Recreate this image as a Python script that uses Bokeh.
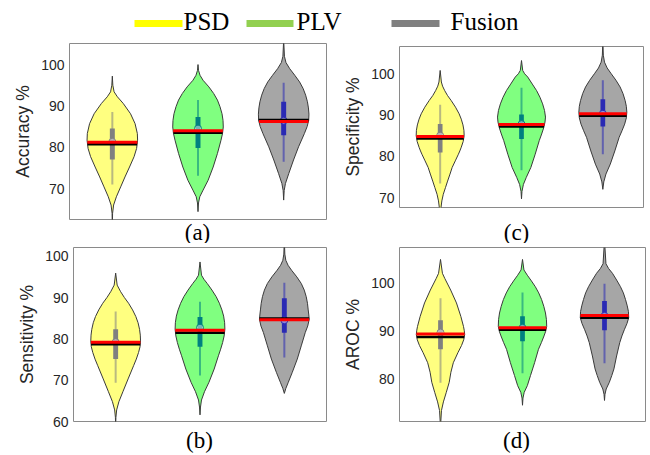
import numpy as np
from bokeh.plotting import figure
from bokeh.layouts import column, row
from bokeh.models import Range1d, FixedTicker
from bokeh.core.properties import value
from bokeh.embed import file_html
from bokeh.resources import INLINE

groups = ["PSD", "PLV", "Fusion"]
tags_top = ["(a)", "(c)"]
tags_bottom = ["(b)", "(d)"]
fill_colors = ["#FFFF80", "#80FF80", "#A6A6A6"]
box_colors = ["#808080", "#008080", "#2A2AB4"]
legend_colors = ["#FFFF00", "#92D050", "#808080"]

# ---- (a) Accuracy ----
acc_psd_y = [61.0, 64.0, 66.0, 68.0, 70.4, 72.8, 75.2, 77.7, 79.7, 81.7, 83.3, 85.7, 88.1, 90.6, 92.2, 93.4, 95.0, 97.2]
acc_psd_w = [0, .01, .05, .16, .33, .5, .68, .86, .96, 1.0, .99, .9, .72, .43, .2, .07, .02, 0]
acc_plv_y = [64.4, 66.5, 68.0, 69.6, 72.0, 75.2, 78.5, 81.7, 83.3, 84.9, 86.5, 88.1, 89.8, 91.4, 93.0, 94.6, 96.2, 97.4, 98.6, 100.0]
acc_plv_w = [0, .02, .07, .2, .4, .6, .77, .91, .97, 1.0, .99, .95, .87, .77, .62, .43, .2, .08, .02, 0]
acc_fus_y = [67.2, 69.5, 71.2, 73.6, 76.9, 80.1, 83.3, 85.0, 86.5, 88.0, 89.5, 91.0, 92.6, 94.2, 95.8, 97.4, 99.0, 100.5, 102.0, 106.0]
acc_fus_w = [0, .02, .07, .2, .39, .59, .82, .93, .99, 1.0, .98, .94, .87, .77, .63, .44, .24, .09, .03, 0]
acc_q1 = [77.0, 79.8, 82.9]
acc_q3 = [84.5, 87.3, 91.0]
acc_wlo = [71.0, 73.1, 76.5]
acc_whi = [88.5, 91.4, 95.6]
acc_dot = [81.3, 84.5, 86.4]
acc_mean = [81.2, 84.0, 86.2]
acc_median = [80.7, 83.5, 86.6]

# ---- (c) Specificity ----
spe_psd_y = [66.0, 69.2, 70.8, 72.4, 74.0, 75.7, 77.3, 78.9, 80.5, 81.3, 82.2, 83.6, 85.0, 86.3, 87.6, 89.0, 90.3, 91.9, 93.5, 94.7, 95.9, 97.0, 98.0, 100.8]
spe_psd_w = [0, .07, .13, .22, .31, .41, .5, .63, .76, .82, .88, .96, 1.0, .99, .95, .88, .79, .64, .46, .31, .19, .1, .05, 0]
spe_plv_y = [69.7, 71.5, 73.2, 74.9, 77.3, 80.5, 83.8, 85.4, 87.0, 88.3, 89.5, 91.1, 92.7, 94.3, 95.9, 97.5, 99.2, 100.0, 100.8, 103.2]
spe_plv_w = [0, .02, .08, .2, .39, .57, .74, .84, .93, .98, 1.0, .96, .88, .77, .63, .45, .26, .13, .05, 0]
spe_fus_y = [72.0, 73.8, 75.7, 78.1, 81.3, 84.6, 86.2, 87.8, 89.3, 90.7, 92.1, 93.5, 95.2, 96.8, 98.4, 100.0, 101.4, 102.8, 104.5, 108.0]
spe_fus_w = [0, .04, .13, .31, .5, .68, .8, .91, .98, 1.0, .98, .93, .84, .72, .55, .35, .18, .07, .02, 0]
spe_q1 = [80.9, 84.2, 87.2]
spe_q3 = [87.8, 90.1, 93.8]
spe_wlo = [73.4, 76.6, 80.5]
spe_whi = [92.5, 96.6, 98.4]
spe_dot = [85.0, 87.8, 90.3]
spe_mean = [84.8, 87.7, 90.3]
spe_median = [84.3, 87.2, 89.8]

# ---- (b) Sensitivity ----
sen_psd_y = [59.0, 61.0, 62.8, 64.8, 67.2, 70.3, 73.5, 75.1, 76.7, 78.1, 79.5, 80.9, 82.3, 83.9, 85.4, 87.0, 88.6, 90.0, 91.4, 93.0, 95.9]
sen_psd_w = [0, .01, .04, .13, .29, .5, .72, .83, .92, .98, 1.0, .99, .96, .9, .81, .68, .52, .35, .2, .06, 0]
sen_plv_y = [61.6, 63.5, 65.2, 67.2, 69.5, 72.7, 75.9, 77.5, 79.1, 80.7, 82.3, 83.9, 85.5, 87.0, 88.6, 90.2, 91.8, 93.4, 94.4, 95.4, 98.6]
sen_plv_w = [0, .02, .06, .18, .36, .57, .74, .83, .91, .97, 1.0, .99, .95, .88, .78, .65, .48, .29, .16, .06, 0]
sen_fus_y = [66.8, 68.0, 69.5, 71.9, 75.1, 78.3, 81.5, 83.1, 84.7, 86.0, 87.0, 88.6, 90.2, 91.8, 93.4, 95.0, 96.6, 97.8, 99.0, 100.5, 104.0]
sen_fus_w = [0, .06, .16, .32, .52, .68, .84, .94, 1.0, .98, .96, .93, .88, .8, .68, .5, .29, .15, .06, .02, 0]
sen_q1 = [75.1, 78.1, 81.5]
sen_q3 = [82.3, 85.3, 89.8]
sen_wlo = [69.4, 71.1, 75.5]
sen_whi = [86.6, 89.0, 93.6]
sen_dot = [79.2, 82.7, 84.5]
sen_mean = [79.2, 82.1, 84.6]
sen_median = [78.7, 81.5, 84.9]

# ---- (d) AROC ----
aroc_psd_y = [70.0, 73.4, 75.2, 77.2, 79.3, 81.4, 83.4, 85.5, 87.0, 88.2, 89.3, 90.2, 91.0, 93.1, 95.9, 98.6, 101.0, 102.1, 105.0]
aroc_psd_w = [0, .04, .12, .24, .36, .43, .53, .72, .87, .96, 1.0, .98, .95, .84, .66, .42, .18, .08, 0]
aroc_plv_y = [74.5, 76.0, 77.2, 78.6, 80.7, 83.4, 86.2, 87.6, 89.0, 90.0, 91.0, 92.4, 93.8, 95.2, 96.6, 98.0, 99.3, 100.5, 101.7, 102.8, 105.0]
aroc_plv_w = [0, .02, .07, .2, .33, .5, .66, .78, .89, .96, 1.0, .99, .95, .88, .79, .67, .53, .37, .2, .06, 0]
aroc_fus_y = [75.5, 76.8, 77.9, 79.3, 80.7, 82.1, 84.8, 87.6, 89.0, 90.3, 91.6, 92.8, 94.1, 95.3, 96.6, 98.0, 99.3, 100.7, 102.1, 103.1, 104.1, 109.0]
aroc_fus_w = [0, .02, .07, .2, .3, .39, .5, .63, .72, .82, .93, 1.0, .99, .94, .87, .78, .66, .5, .33, .17, .06, 0]
aroc_q1 = [86.2, 87.9, 90.2]
aroc_q3 = [92.3, 93.1, 96.3]
aroc_wlo = [79.2, 81.2, 83.3]
aroc_whi = [96.9, 98.1, 99.9]
aroc_dot = [89.7, 90.7, 93.2]
aroc_mean = [89.4, 90.7, 93.3]
aroc_median = [88.8, 90.3, 92.8]

MAXW = 0.295
TXT = "#262626"


def make_panel(width, height, borders, yr, ticks, ylabel,
               profiles, q1, q3, wlo, whi, dot, mean, median):
    l, r, t, b = borders
    p = figure(width=width, height=height, x_range=Range1d(0.5, 3.5),
               y_range=Range1d(*yr), output_backend="svg", toolbar_location=None,
               min_border_left=l, min_border_right=r, min_border_top=t,
               min_border_bottom=b)
    p.grid.visible = False
    p.outline_line_color = "#8a8a8a"
    p.outline_line_width = 1
    p.xaxis.visible = False

    ya = p.yaxis[0]
    ya.ticker = FixedTicker(ticks=ticks)
    ya.major_tick_line_color = None
    ya.minor_tick_line_color = None
    ya.axis_line_color = None
    ya.major_tick_out = 0
    ya.major_tick_in = 0
    ya.major_label_standoff = 5
    ya.major_label_text_font = "Liberation Sans"
    ya.major_label_text_font_size = "14px"
    ya.major_label_text_color = TXT
    ya.axis_label = ylabel
    ya.axis_label_text_font = "Liberation Sans"
    ya.axis_label_text_font_size = "17.5px"
    ya.axis_label_text_font_style = "normal"
    ya.axis_label_text_color = TXT
    ya.axis_label_standoff = 5

    for i, (py, pw) in enumerate(profiles):
        c = i + 1
        ys = np.array(py, dtype=float)
        ws = np.array(pw, dtype=float) * MAXW
        xs = np.concatenate([c + ws, (c - ws)[::-1]])
        yy = np.concatenate([ys, ys[::-1]])
        p.patch(xs, yy, fill_color=fill_colors[i], line_color="#3a3a3a", line_width=1)
        p.segment(x0=[c], y0=[wlo[i]], x1=[c], y1=[whi[i]], line_color=box_colors[i],
                  line_width=2, line_alpha=0.55)
        p.vbar(x=[c], width=0.058, bottom=[q1[i]], top=[q3[i]], fill_color=box_colors[i],
               line_color=None)
        p.scatter(x=[c], y=[dot[i]], size=7, fill_color="white", fill_alpha=0.45,
                  line_color=box_colors[i], line_width=1)
        wm = np.interp(median[i], ys, ws)
        p.segment(x0=[c - wm], y0=[median[i]], x1=[c + wm], y1=[median[i]],
                  line_color="black", line_width=2.5)
        wr = np.interp(mean[i], ys, ws)
        p.segment(x0=[c - wr], y0=[mean[i]], x1=[c + wr], y1=[mean[i]],
                  line_color="#FF0000", line_width=3)
    return p


def strip(height, texts, xs, y, size, font, color="black"):
    s = figure(width=650, height=height, x_range=Range1d(0, 650),
               y_range=Range1d(0, height), output_backend="svg",
               toolbar_location=None, x_axis_type=None, y_axis_type=None,
               min_border=0)
    s.grid.visible = False
    s.outline_line_color = None
    s.text(x=xs, y=[y] * len(texts), text=texts, text_font=value(font),
           text_font_size=size, text_baseline="middle", text_align="center",
           text_color=color)
    return s


# row 1: canvas y 38..220 ; strip 220..243 ; row 2: 243..428 ; strip 428..455
pa = make_panel(340, 182, (69, 14, 5, 1), (62.5, 105.1), [70, 80, 90, 100],
                "Accuracy %",
                [(acc_psd_y, acc_psd_w), (acc_plv_y, acc_plv_w), (acc_fus_y, acc_fus_w)],
                acc_q1, acc_q3, acc_wlo, acc_whi, acc_dot, acc_mean, acc_median)
pc = make_panel(310, 182, (48, 7, 8, 13), (67.6, 106.6), [70, 80, 90, 100],
                "Specificity %",
                [(spe_psd_y, spe_psd_w), (spe_plv_y, spe_plv_w), (spe_fus_y, spe_fus_w)],
                spe_q1, spe_q3, spe_wlo, spe_whi, spe_dot, spe_mean, spe_median)
pb = make_panel(340, 185, (73, 14, 4, 7), (60.0, 102.1), [60, 70, 80, 90, 100],
                "Sensitivity %",
                [(sen_psd_y, sen_psd_w), (sen_plv_y, sen_plv_w), (sen_fus_y, sen_fus_w)],
                sen_q1, sen_q3, sen_wlo, sen_whi, sen_dot, sen_mean, sen_median)
pd_ = make_panel(310, 185, (48, 5, 4, 7), (71.1, 107.5), [80, 90, 100],
                 "AROC %",
                 [(aroc_psd_y, aroc_psd_w), (aroc_plv_y, aroc_plv_w), (aroc_fus_y, aroc_fus_w)],
                 aroc_q1, aroc_q3, aroc_wlo, aroc_whi, aroc_dot, aroc_mean, aroc_median)

# ---- legend strip (data units = pixels) ----
pl = figure(width=650, height=38, x_range=Range1d(0, 650), y_range=Range1d(0, 38),
            output_backend="svg", toolbar_location=None, x_axis_type=None,
            y_axis_type=None, min_border=0)
pl.grid.visible = False
pl.outline_line_color = None
leg_x0 = [134, 246, 391]
leg_x1 = [182, 293, 439]
leg_tx = [183, 296, 450]
pl.segment(x0=leg_x0, y0=[15] * 3, x1=leg_x1, y1=[15] * 3, line_color=legend_colors,
           line_width=7, line_cap="butt")
pl.text(x=leg_tx, y=[17] * 3, text=groups, text_font=value("Liberation Serif"),
        text_font_size="25px", text_baseline="middle", text_align="left",
        text_color="black")

s1 = strip(23, tags_top, [197, 516], 11.5, "23px", "Liberation Serif")
s2 = strip(27, tags_bottom, [199, 516], 15, "23px", "Liberation Serif")

layout = column(pl, row(column(pa), column(pc)), s1, row(column(pb), column(pd_)), s2)
open("out.html", "w").write(file_html(layout, INLINE))
